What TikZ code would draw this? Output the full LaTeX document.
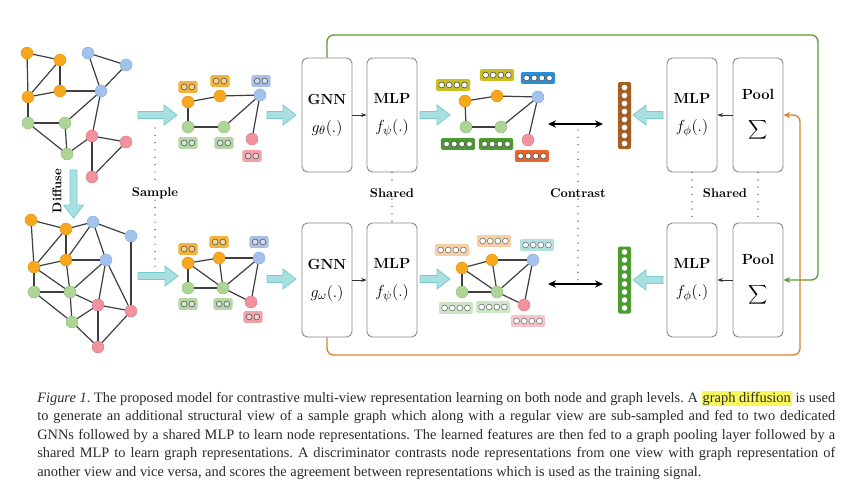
\documentclass[tikz,border=0pt]{standalone}
\usepackage{fontspec}
\newfontfamily\capfont{Liberation Serif}
\usetikzlibrary{arrows.meta}
\definecolor{cO}{HTML}{F7A71C}
\definecolor{cOd}{HTML}{E3921A}
\definecolor{cB}{HTML}{A3C2EE}
\definecolor{cBd}{HTML}{86A6D8}
\definecolor{cG}{HTML}{AED596}
\definecolor{cGd}{HTML}{8FBC79}
\definecolor{cR}{HTML}{F1929C}
\definecolor{cRd}{HTML}{D77884}
\definecolor{edgec}{HTML}{3F3F3F}
\definecolor{tealf}{HTML}{A8E0E1}
\definecolor{teald}{HTML}{7CCBCC}
\definecolor{blkgray}{HTML}{8A8A8A}
\definecolor{loopgreen}{HTML}{5B9B32}
\definecolor{looporange}{HTML}{D9822B}
% sampled feature boxes
\definecolor{sbO}{HTML}{F3B23C}
\definecolor{sbB}{HTML}{A9BFE3}
\definecolor{sbG}{HTML}{B5D6A7}
\definecolor{sbR}{HTML}{F1A1A8}
% output top
\definecolor{obY}{HTML}{C9BE22}
\definecolor{obB}{HTML}{2A8FD4}
\definecolor{obG}{HTML}{4B9B2E}
\definecolor{obO}{HTML}{E8652B}
% output bottom
\definecolor{lbO}{HTML}{F7CFA6}
\definecolor{lbB}{HTML}{B2E0E0}
\definecolor{lbG}{HTML}{CFE6C6}
\definecolor{lbR}{HTML}{F6C4C6}
\definecolor{vecbrown}{HTML}{A65E1E}
\definecolor{captext}{HTML}{2B2B2B}
\definecolor{hl}{HTML}{FAF75A}
\tikzset{
  gnode/.style={circle, inner sep=0pt, minimum size=9pt, line width=0.3pt},
  gO/.style={gnode, fill=cO, draw=cOd},
  gB/.style={gnode, fill=cB, draw=cBd},
  gG/.style={gnode, fill=cG, draw=cGd},
  gR/.style={gnode, fill=cR, draw=cRd},
  gedge/.style={draw=edgec, line width=0.9pt},
  fvbox/.style={rectangle, rounded corners=1.5pt, minimum height=8.8pt, inner sep=0pt, draw=none},
  fvdot/.style={circle, minimum size=4.4pt, inner sep=0pt, line width=0.45pt},
  blk/.style={draw=blkgray, line width=0.7pt, rounded corners=4pt, minimum width=37.5pt,
    minimum height=85.5pt, align=center, inner sep=0pt, font=\fontsize{11}{13}\selectfont},
  lbl/.style={font=\fontsize{9.5}{11}\selectfont\bfseries, inner sep=1pt},
  dotline/.style={draw=black!75, line width=1.1pt, line cap=round, dash pattern=on 0pt off 5.5pt},
  thinarr/.style={draw=black!80, line width=0.5pt, -{Stealth[length=4pt,width=3pt]}},
  carrow/.style={draw=black, line width=1.2pt, {Stealth[length=6pt,width=5.5pt]}-{Stealth[length=6pt,width=5.5pt]}},
  looparr/.style={line width=1pt, rounded corners=5pt},
  tealarrow/.style={fill=tealf, draw=teald, line width=0.6pt, line join=miter},
}
\newcommand\gn[4]{\node[g#4] (#1) at (#2,#3) {};}
\newcommand\fvec[7]{%
  \node[fvbox, fill=#5, minimum width={(#4*7.6+4)*0.75pt}] (#1) at (#2,#3) {};
  \foreach \k in {1,...,#4}{\node[fvdot, fill=#6, draw=#7] at ({#2+(\k-(#4+1)/2)*7.6},#3) {};}
}
\newcommand\cvec[4]{%
  \node[rectangle, rounded corners=1.5pt, minimum width=9.75pt, minimum height=50.25pt, inner sep=0pt, fill=#4] (#1) at (#2,#3) {};
  \foreach \k in {1,...,8}{\node[circle, minimum size=4.2pt, inner sep=0pt, fill=white] at (#2,{#3+(\k-4.5)*8}) {};}
}
\newcommand\tealarr[4]{%
  \begin{scope}[shift={(#1,#2)}, rotate=#3]
  \filldraw[tealarrow] (0,-3.5) -- ({#4-13},-3.5) -- ({#4-13},-10) -- (#4,0) -- ({#4-13},10) -- ({#4-13},3.5) -- (0,3.5) -- cycle;
  \end{scope}}
\newcommand\bm[1]{{\fontsize{13}{15}\selectfont$#1$}}
\newcommand\bsum{{\fontsize{15}{17}\selectfont$\displaystyle\sum$}}
\newcommand\capline[1]{\hbox to 598.5pt{#1}}
\begin{document}
\begin{tikzpicture}[x=0.75pt,y=-0.75pt]
\fill[white] (0,0) rectangle (856,487);
\useasboundingbox (0,0) rectangle (856,487);

% ---------- original graph
\gn{A1}{27}{53}{O}\gn{A2}{60}{60}{O}\gn{A3}{88}{53}{B}\gn{A4}{126}{65}{B}
\gn{A5}{28}{97}{O}\gn{A6}{60}{91}{O}\gn{A7}{101}{91}{B}
\gn{A8}{28}{123}{G}\gn{A9}{65}{123}{G}\gn{A10}{92}{136}{R}\gn{A11}{126}{142}{R}
\gn{A12}{67}{154}{G}\gn{A13}{92}{177}{R}
\foreach \a/\b in {A1/A2,A1/A5,A2/A5,A2/A6,A5/A6,A6/A7,A3/A7,A3/A4,A4/A7,A5/A8,A8/A9,A8/A12,A9/A12,A9/A7,A7/A10,A12/A10,A10/A11,A10/A13,A11/A13}
  \draw[gedge] (\a) -- (\b);

% ---------- diffused graph
\gn{D1}{31}{220}{O}\gn{D2}{66}{229}{O}\gn{D3}{93}{222}{B}\gn{D4}{131}{236}{B}
\gn{D5}{34}{267}{O}\gn{D6}{66}{260}{O}\gn{D7}{106}{260}{B}
\gn{D8}{34}{292}{G}\gn{D9}{70}{292}{G}\gn{D10}{98}{305}{R}\gn{D11}{131}{311}{R}
\gn{D12}{72}{322}{G}\gn{D13}{98}{347}{R}
\foreach \a/\b in {D1/D2,D1/D5,D2/D3,D2/D6,D2/D5,D3/D4,D3/D6,D3/D7,D4/D11,D5/D6,D5/D8,D5/D9,D6/D7,D6/D9,D7/D9,D7/D10,D7/D11,D8/D9,D8/D12,D9/D10,D9/D12,D10/D11,D10/D12,D10/D13,D12/D13,D11/D13}
  \draw[gedge] (\a) -- (\b);

% ---------- sampled graphs
\gn{S1}{188}{102}{O}\gn{S2}{220}{96}{O}\gn{S3}{260}{95}{B}
\gn{S4}{188}{127}{G}\gn{S5}{224}{127}{G}\gn{S6}{252}{139}{R}
\foreach \a/\b in {S1/S2,S2/S3,S1/S4,S4/S5,S5/S3,S3/S6}
  \draw[gedge] (\a) -- (\b);
\fvec{fS1}{188}{87}{2}{sbO}{sbO!55!white}{black!65}
\fvec{fS2}{220}{81}{2}{sbO}{sbO!55!white}{black!65}
\fvec{fS3}{261}{81}{2}{sbB}{sbB!55!white}{black!65}
\fvec{fS4}{188}{143}{2}{sbG}{sbG!55!white}{black!65}
\fvec{fS5}{224}{143}{2}{sbG}{sbG!55!white}{black!65}
\fvec{fS6}{252}{156}{2}{sbR}{sbR!55!white}{black!65}

\gn{T1}{188}{263}{O}\gn{T2}{219}{258}{O}\gn{T3}{259}{258}{B}
\gn{T4}{188}{288}{G}\gn{T5}{223}{288}{G}\gn{T6}{251}{302}{R}
\foreach \a/\b in {T1/T2,T2/T3,T1/T4,T1/T5,T2/T5,T4/T5,T5/T3,T5/T6,T3/T6}
  \draw[gedge] (\a) -- (\b);
\fvec{fT1}{188}{249}{2}{sbO}{sbO!55!white}{black!65}
\fvec{fT2}{219}{242}{2}{sbO}{sbO!55!white}{black!65}
\fvec{fT3}{259}{242}{2}{sbB}{sbB!55!white}{black!65}
\fvec{fT4}{188}{304}{2}{sbG}{sbG!55!white}{black!65}
\fvec{fT5}{223}{304}{2}{sbG}{sbG!55!white}{black!65}
\fvec{fT6}{253}{317}{2}{sbR}{sbR!55!white}{black!65}

% ---------- output graphs
\gn{U1}{465}{101}{O}\gn{U2}{497}{96}{O}\gn{U3}{538}{97}{B}
\gn{U4}{466}{127}{G}\gn{U5}{501}{127}{G}\gn{U6}{528}{140}{R}
\foreach \a/\b in {U1/U2,U2/U3,U1/U4,U4/U5,U5/U3,U3/U6}
  \draw[gedge] (\a) -- (\b);
\fvec{fU1}{453}{85}{4}{obY}{white}{black!70}
\fvec{fU2}{497}{75}{4}{obY}{white}{black!70}
\fvec{fU3}{538}{78}{4}{obB}{white}{black!70}
\fvec{fU4}{458}{144}{4}{obG}{white}{black!70}
\fvec{fU5}{496}{144}{4}{obG}{white}{black!70}
\fvec{fU6}{532}{156}{4}{obO}{white}{black!70}

\gn{V1}{462}{268}{O}\gn{V2}{492}{260}{O}\gn{V3}{533}{260}{B}
\gn{V4}{462}{292}{G}\gn{V5}{497}{292}{G}\gn{V6}{524}{305}{R}
\foreach \a/\b in {V1/V2,V2/V3,V1/V4,V1/V5,V2/V5,V4/V5,V5/V3,V5/V6,V3/V6}
  \draw[gedge] (\a) -- (\b);
\fvec{fV1}{452}{250}{4}{lbO}{white}{black!55}
\fvec{fV2}{494}{241}{4}{lbO}{white}{black!55}
\fvec{fV3}{537}{245}{4}{lbB}{white}{black!55}
\fvec{fV4}{456}{308}{4}{lbG}{white}{black!55}
\fvec{fV5}{493}{307}{4}{lbG}{white}{black!55}
\fvec{fV6}{528}{321}{4}{lbR}{white}{black!55}

% ---------- vector columns
\cvec{vec1}{624.5}{115.5}{vecbrown}
\cvec{vec2}{624.5}{280}{obG}

% ---------- blocks
\node[blk] (gnn1) at (327,115) {\textbf{GNN}\\[8pt]\bm{g_\theta(.)}};
\node[blk] (mlp1) at (392,115) {\textbf{MLP}\\[8pt]\bm{f_\psi(.)}};
\node[blk] (gnn2) at (327,280) {\textbf{GNN}\\[8pt]\bm{g_\omega(.)}};
\node[blk] (mlp2) at (392,280) {\textbf{MLP}\\[8pt]\bm{f_\psi(.)}};
\node[blk] (mlpg1) at (692,115) {\textbf{MLP}\\[8pt]\bm{f_\phi(.)}};
\node[blk] (pool1) at (758,115) {\textbf{Pool}\\[13pt]\bsum};
\node[blk] (mlpg2) at (692,280) {\textbf{MLP}\\[8pt]\bm{f_\phi(.)}};
\node[blk] (pool2) at (758,280) {\textbf{Pool}\\[13pt]\bsum};

\draw[thinarr] (gnn1) -- (mlp1);
\draw[thinarr] (gnn2) -- (mlp2);
\draw[thinarr] (pool1) -- (mlpg1);
\draw[thinarr] (pool2) -- (mlpg2);

% ---------- teal arrows
\tealarr{138}{115}{0}{39}
\tealarr{267}{115}{0}{29}
\tealarr{138}{276}{0}{40}
\tealarr{267}{279}{0}{29}
\tealarr{420}{115}{0}{30}
\tealarr{420}{279}{0}{30}
\tealarr{663}{115}{180}{30}
\tealarr{663}{280}{180}{30}
\tealarr{73.5}{170}{-90}{48}

% ---------- loops
\coordinate (gc) at (818,35);
\coordinate (oc) at (800,355);
\draw[looparr, draw=loopgreen, -{Stealth[length=5pt,width=4.5pt,fill=loopgreen]}] (gnn1.north) |- (gc) |- (pool2.east);
\draw[looparr, draw=looporange, -{Stealth[length=5pt,width=4.5pt,fill=looporange]}] (gnn2.south) |- (oc) |- (pool1.east);

% ---------- contrast
\coordinate (c1l) at (548,124); \coordinate (c1r) at (603,124);
\coordinate (c2l) at (548,284); \coordinate (c2r) at (603,284);
\draw[carrow] (c1l) -- (c1r);
\draw[carrow] (c2l) -- (c2r);
\node[lbl] (con) at (578,193) {Contrast};
\coordinate (ct) at (578,130); \coordinate (cb) at (578,280);
\draw[dotline] (ct) -- (con.north);
\draw[dotline] (con.south) -- (cb);

% ---------- sample / shared / diffuse labels
\node[lbl] (samp) at (155,193) {Sample};
\coordinate (st) at (155,128); \coordinate (sb) at (155,270);
\draw[dotline] (st) -- (samp.north);
\draw[dotline] (samp.south) -- (sb);
\node[lbl] (sh1) at (392,193) {Shared};
\draw[dotline] (mlp1.south) -- (sh1.north);
\draw[dotline] (sh1.south) -- (mlp2.north);
\node[lbl] (sh2) at (725,193) {Shared};
\draw[dotline] (mlpg1.south) -- (mlpg2.north);
\draw[dotline] (pool1.south) -- (pool2.north);
\node[lbl, rotate=90] (dif) at (57,191) {Diffuse};

% ---------- caption
\node[anchor=base west, inner sep=0pt] (cap) at (37,391) {\parbox[t]{598.5pt}{\capfont\fontsize{10.8}{13.9}\selectfont\frenchspacing\color{captext}\setlength{\fboxsep}{0.8pt}%
\capline{\textit{Figure 1}. The proposed model for contrastive multi-view representation learning on both node and graph levels. A \colorbox{hl}{graph diffusion} is used}
\capline{to generate an additional structural view of a sample graph which along with a regular view are sub-sampled and fed to two dedicated}
\capline{GNNs followed by a shared MLP to learn node representations. The learned features are then fed to a graph pooling layer followed by a}
\capline{shared MLP to learn graph representations. A discriminator contrasts node representations from one view with graph representation of}
\hbox{another view and vice versa, and scores the agreement between representations which is used as the training signal.}}};
\end{tikzpicture}
\end{document}
